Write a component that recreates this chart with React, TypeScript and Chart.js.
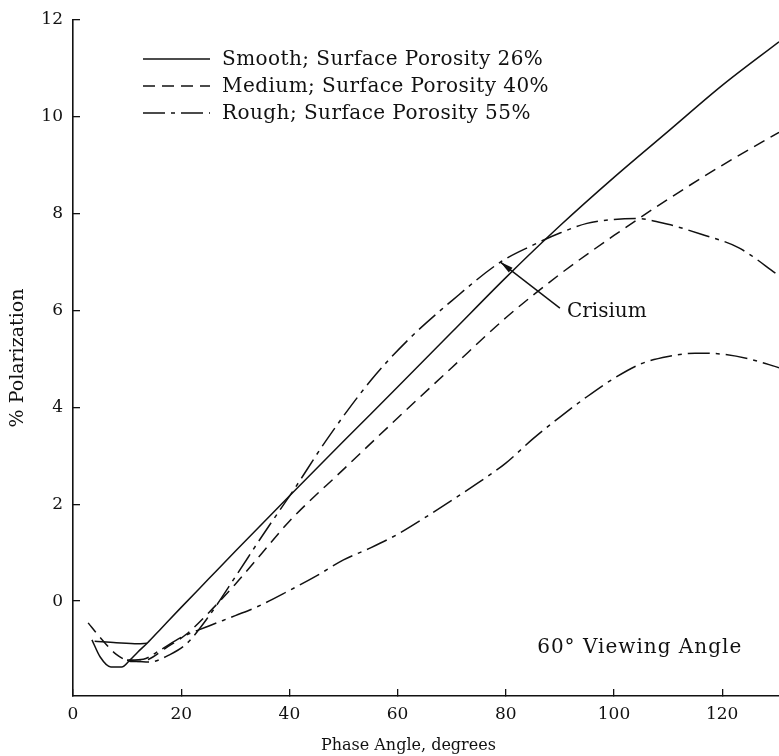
import React, { useEffect, useRef } from 'react';
import { Chart, registerables } from 'chart.js';

Chart.register(...registerables);

// ---- data ----
const smoothPhase = [3.5, 5, 7, 9, 10.5, 12, 13.7, 16, 20, 25, 30, 40, 50, 60, 70, 80, 90, 100, 110, 120, 130.5];
const smoothPol = [-0.8, -1.15, -1.36, -1.36, -1.22, -1.05, -0.87, -0.6, -0.13, 0.45, 1.03, 2.17, 3.3, 4.42, 5.55, 6.68, 7.75, 8.75, 9.7, 10.65, 11.55];

const smoothFlatPhase = [4, 8, 12, 13.7];
const smoothFlatPol = [-0.83, -0.86, -0.88, -0.87];

const mediumPhase = [2.8, 5, 8, 11, 14, 17, 21, 25, 30, 35, 40, 50, 60, 70, 80, 90, 100, 110, 120, 130.5];
const mediumPol = [-0.45, -0.75, -1.1, -1.25, -1.2, -0.98, -0.68, -0.25, 0.35, 1.0, 1.65, 2.72, 3.78, 4.82, 5.85, 6.75, 7.55, 8.3, 9.0, 9.68];

const roughPhase = [10, 13, 16, 20, 25, 30, 34, 40, 45, 50, 55, 60, 65, 70, 75, 80, 85, 90, 95, 100, 105, 110, 115, 120, 125, 130.5];
const roughPol = [-1.22, -1.2, -1.02, -0.75, -0.52, -0.3, -0.12, 0.22, 0.52, 0.85, 1.1, 1.38, 1.72, 2.08, 2.45, 2.85, 3.35, 3.8, 4.22, 4.6, 4.9, 5.05, 5.12, 5.1, 5.0, 4.82];

const roughUpperPhase = [10, 14, 18, 21, 25, 30, 35, 41, 47, 55, 62, 70, 79, 85, 90, 95, 100, 104, 110, 116, 123, 130.5];
const roughUpperPol = [-1.22, -1.26, -1.1, -0.88, -0.33, 0.5, 1.35, 2.33, 3.35, 4.55, 5.4, 6.2, 7.0, 7.35, 7.6, 7.8, 7.88, 7.9, 7.78, 7.58, 7.3, 6.72];

const xTicks = [0, 20, 40, 60, 80, 100, 120];
const yTicks = [0, 2, 4, 6, 8, 10, 12];

const legendSmooth = 'Smooth; Surface Porosity 26%';
const legendMedium = 'Medium; Surface Porosity 40%';
const legendRough = 'Rough; Surface Porosity 55%';

const crisiumText = 'Crisium';
const crisiumTip = [79, 7.0];
const crisiumTail = [90, 6.05];
const crisiumTextAt = [91.3, 5.98];

const viewingText = '60° Viewing Angle';
const viewingTextAt = [85.8, -0.97];

const xTitle = 'Phase Angle, degrees';
const yTitle = '% Polarization';

const INK = '#111';
const FONT = "'DejaVu Serif', serif";

const pts = (xs: number[], ys: number[]) => xs.map((x, i) => ({ x, y: ys[i] }));

const DASH_MED = [12, 7];
const DASH_ROUGH = [22, 6, 4, 6];

const annotPlugin = {
  id: 'annot',
  afterDatasetsDraw(chart: any) {
    const { ctx, chartArea, scales } = chart;
    const x = scales.x;
    const y = scales.y;
    ctx.save();
    ctx.strokeStyle = INK;
    ctx.fillStyle = INK;

    // legend (inside plot, top-left)
    const items = chart.data.datasets.filter((d: any) => !d.label.startsWith('_'));
    const lx0 = chartArea.left + 70;
    const lx1 = chartArea.left + 137;
    const tx = chartArea.left + 149;
    ctx.font = `20px ${FONT}`;
    ctx.textBaseline = 'middle';
    ctx.textAlign = 'left';
    items.forEach((d: any, i: number) => {
      const yy = chartArea.top + 39 + i * 27;
      ctx.beginPath();
      ctx.setLineDash(d.borderDash || []);
      ctx.lineWidth = 1.4;
      ctx.moveTo(lx0, yy);
      ctx.lineTo(lx1, yy);
      ctx.stroke();
      ctx.setLineDash([]);
      (ctx as any).letterSpacing = '0.45px';
      ctx.fillText(d.label, tx, yy + 1);
      (ctx as any).letterSpacing = '0px';
    });

    // Crisium pointer
    const ax = x.getPixelForValue(crisiumTip[0]);
    const ay = y.getPixelForValue(crisiumTip[1]);
    const bx = x.getPixelForValue(crisiumTail[0]);
    const by = y.getPixelForValue(crisiumTail[1]);
    ctx.lineWidth = 1.4;
    ctx.beginPath();
    ctx.moveTo(ax, ay);
    ctx.lineTo(bx, by);
    ctx.stroke();
    const ang = Math.atan2(ay - by, ax - bx);
    const hl = 13;
    const hw = 3;
    ctx.beginPath();
    ctx.moveTo(ax, ay);
    ctx.lineTo(ax - hl * Math.cos(ang) + hw * Math.sin(ang), ay - hl * Math.sin(ang) - hw * Math.cos(ang));
    ctx.lineTo(ax - hl * Math.cos(ang) - hw * Math.sin(ang), ay - hl * Math.sin(ang) + hw * Math.cos(ang));
    ctx.closePath();
    ctx.fill();

    ctx.font = `20px ${FONT}`;
    ctx.fillText(crisiumText, x.getPixelForValue(crisiumTextAt[0]), y.getPixelForValue(crisiumTextAt[1]));
    (ctx as any).letterSpacing = '1px';
    ctx.fillText(viewingText, x.getPixelForValue(viewingTextAt[0]), y.getPixelForValue(viewingTextAt[1]));
    (ctx as any).letterSpacing = '0px';

    // x-axis title, centred under the labelled part of the axis
    ctx.font = `16px ${FONT}`;
    ctx.textAlign = 'center';
    ctx.textBaseline = 'middle';
    ctx.fillText(xTitle, (x.getPixelForValue(0) + x.getPixelForValue(124)) / 2, x.bottom - 10);
    ctx.restore();
  },
};

export default function App() {
  const ref = useRef<HTMLCanvasElement | null>(null);
  useEffect(() => {
    document.body.style.margin = '0';
    if (!ref.current) return;
    const line = (label: string, data: any[], dash: number[]) => ({
      label,
      data,
      borderColor: INK,
      borderWidth: 1.5,
      borderDash: dash,
      pointRadius: 0,
      fill: false,
      cubicInterpolationMode: 'monotone' as const,
    });
    const chart = new Chart(ref.current, {
      type: 'line',
      data: {
        datasets: [
          line(legendSmooth, pts(smoothPhase, smoothPol), []),
          line(legendMedium, pts(mediumPhase, mediumPol), DASH_MED),
          line(legendRough, pts(roughPhase, roughPol), DASH_ROUGH),
          line('_roughUpper', pts(roughUpperPhase, roughUpperPol), DASH_ROUGH),
          line('_smoothFlat', pts(smoothFlatPhase, smoothFlatPol), []),
        ],
      },
      options: {
        animation: false,
        responsive: false,
        maintainAspectRatio: false,
        layout: { padding: { left: 0, top: 20, right: 0, bottom: 0 } },
        plugins: { legend: { display: false }, tooltip: { enabled: false } },
        scales: {
          x: {
            type: 'linear',
            min: 0,
            max: 130.5,
            afterBuildTicks: (s: any) => { s.ticks = xTicks.map((v) => ({ value: v })); },
            afterFit: (s: any) => { s.height = 60; s.paddingLeft = 0; s.paddingRight = 0; },
            grid: { drawOnChartArea: false, drawTicks: true, tickLength: -7, color: INK, lineWidth: 1.3 },
            border: { display: true, color: INK, width: 1.6 },
            ticks: { padding: 15, color: INK, font: { family: FONT, size: 17 }, maxRotation: 0, autoSkip: false },
            title: { display: false },
          },
          y: {
            type: 'linear',
            min: -1.96,
            max: 12,
            afterBuildTicks: (s: any) => { s.ticks = yTicks.map((v) => ({ value: v })); },
            afterFit: (s: any) => { s.width = 73; s.paddingTop = 10; s.paddingBottom = 10; },
            grid: { drawOnChartArea: false, drawTicks: true, tickLength: -7, color: INK, lineWidth: 1.3 },
            border: { display: true, color: INK, width: 1.6 },
            ticks: { padding: 17, color: INK, font: { family: FONT, size: 17 }, autoSkip: false },
            title: { display: true, text: yTitle, color: INK, font: { family: FONT, size: 19 }, padding: 7 },
          },
        },
      },
      plugins: [annotPlugin],
    });
    return () => chart.destroy();
  }, []);
  return (
    <div style={{ width: 779, height: 756, position: 'relative', background: '#fff' }}>
      <canvas ref={ref} width={779} height={756} style={{ width: 779, height: 756, display: 'block' }} />
    </div>
  );
}
